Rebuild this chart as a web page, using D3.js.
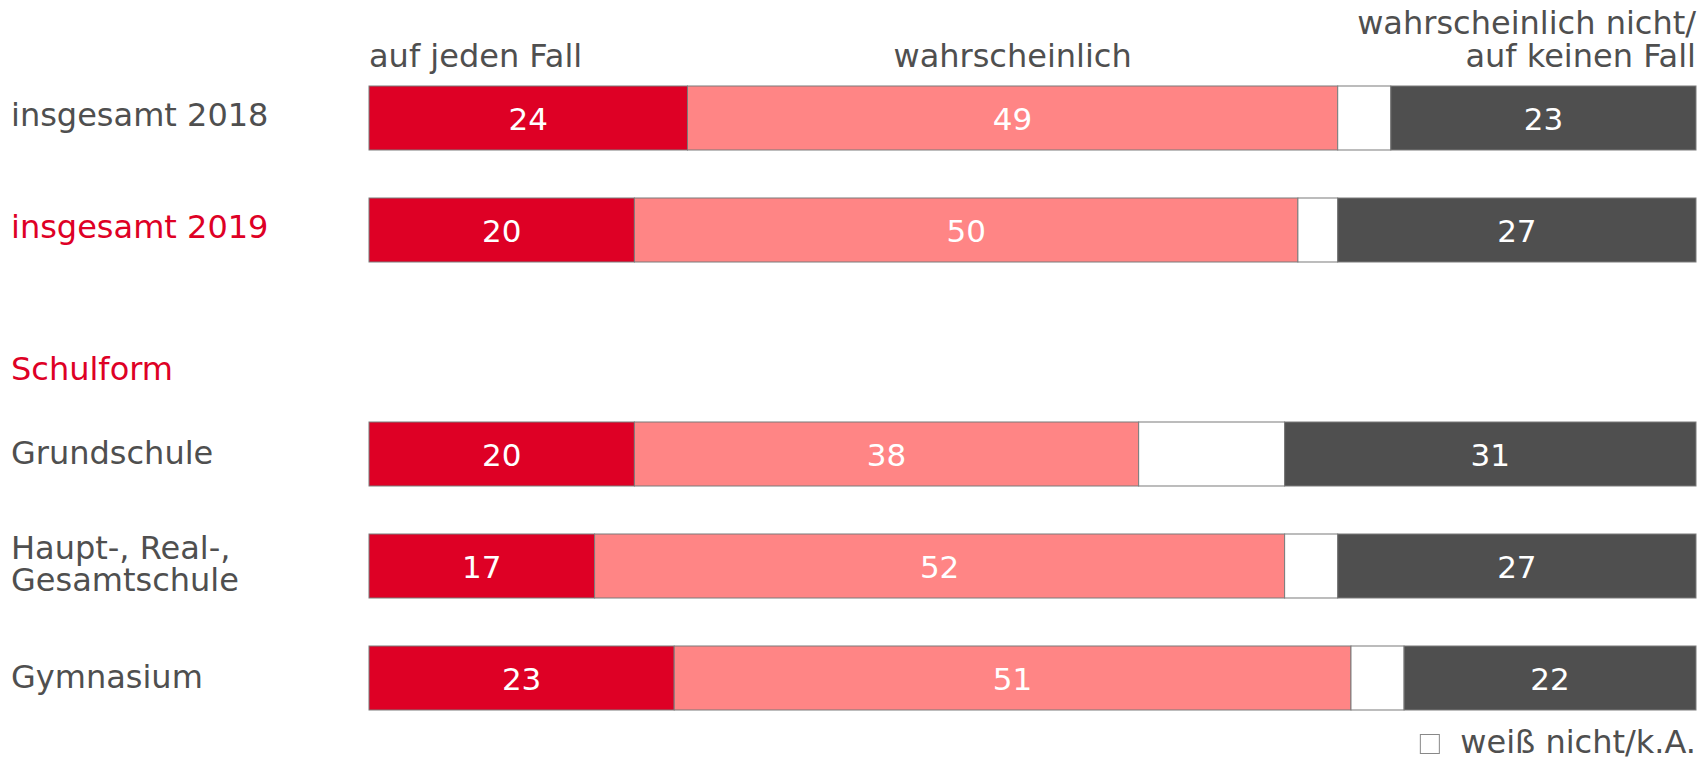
<!DOCTYPE html>
<html>
<head>
<meta charset="utf-8">
<script src="https://cdn.jsdelivr.net/npm/d3@7"></script>
<style>
  body { margin: 0; background: #fff; }
  text { font-family: "DejaVu Sans", Verdana, sans-serif; }
</style>
</head>
<body>
<div id="chart"></div>
<script>
// rows (the "Schulform" row is only a heading, no bar)
var rows = ["insgesamt 2018", "insgesamt 2019", "Schulform", "Grundschule", "Haupt-, Real-, Gesamtschule", "Gymnasium"];
var rowLines = [["insgesamt 2018"], ["insgesamt 2019"], ["Schulform"], ["Grundschule"], ["Haupt-, Real-,", "Gesamtschule"], ["Gymnasium"]];
var rowRed = [false, true, true, false, false, false];

var keys = ["aufJedenFall", "wahrscheinlich", "weissNicht", "nicht"];
var aufJedenFall = [24, 20, null, 20, 17, 23];
var wahrscheinlich = [49, 50, null, 38, 52, 51];
var weissNicht = [4, 3, null, 11, 4, 4];
var nicht = [23, 27, null, 31, 27, 22];

var headerTop = ["auf jeden Fall", "wahrscheinlich"];
var headerRight = ["wahrscheinlich nicht/", "auf keinen Fall"];
var legendLabel = "weiß nicht/k.A.";

var colors = {aufJedenFall: "#DE0025", wahrscheinlich: "#FF8585", weissNicht: "#FFFFFF", nicht: "#4F4F4F"};
var textColor = "#4F4F4F";
var red = "#DE0025";

var w = 1707, h = 761;

var svg = d3.select("#chart").append("svg")
    .attr("width", w)
    .attr("height", h);

var data = rows.map(function (r, i) {
    return {row: r, aufJedenFall: aufJedenFall[i], wahrscheinlich: wahrscheinlich[i],
        weissNicht: weissNicht[i], nicht: nicht[i]};
}).filter(function (d) { return d.aufJedenFall != null; });

var xScale = d3.scaleLinear().domain([0, 100]).range([369, 1696]);
var yScale = d3.scaleBand().domain(rows).range([62, 734])
    .paddingInner(0.4286).paddingOuter(0.2143);

var series = d3.stack().keys(keys)(data);

// bars
var groups = svg.selectAll("g.series")
    .data(series)
    .enter()
    .append("g")
    .attr("class", "series")
    .attr("fill", function (d) { return colors[d.key]; });

groups.selectAll("rect")
    .data(function (d) { return d; })
    .enter()
    .append("rect")
    .attr("x", function (d) { return xScale(d[0]); })
    .attr("y", function (d) { return yScale(d.data.row); })
    .attr("width", function (d) { return xScale(d[1]) - xScale(d[0]); })
    .attr("height", yScale.bandwidth())
    .attr("stroke", "#7a7a7a")
    .attr("stroke-width", 1);

// value labels
groups.filter(function (d) { return d.key != "weissNicht"; })
    .selectAll("text")
    .data(function (d) { return d; })
    .enter()
    .append("text")
    .text(function (d) { return d[1] - d[0]; })
    .attr("text-anchor", "middle")
    .attr("x", function (d) { return (xScale(d[0]) + xScale(d[1])) / 2; })
    .attr("y", function (d) { return yScale(d.data.row) + yScale.bandwidth() / 2 + 12; })
    .attr("font-size", "31px")
    .attr("fill", "#fff");

// row labels
var labels = svg.append("g").selectAll("text")
    .data(rows)
    .enter()
    .append("text")
    .attr("x", 11)
    .attr("y", function (d, i) {
        var c = yScale(d) + yScale.bandwidth() / 2;
        if (d == "Schulform") return 380;
        if (rowLines[i].length > 1) return c - 7;
        if (i < 2) return c + 8;
        return c + 10;
    })
    .attr("font-size", "32px")
    .attr("fill", function (d, i) { return rowRed[i] ? red : textColor; });

labels.selectAll("tspan")
    .data(function (d, i) { return rowLines[i]; })
    .enter()
    .append("tspan")
    .attr("x", 11)
    .attr("dy", function (d, i) { return i == 0 ? 0 : 32; })
    .text(function (d) { return d; });

// column headers
svg.append("text")
    .text(headerTop[0])
    .attr("x", xScale(0))
    .attr("y", 67)
    .attr("font-size", "32px")
    .attr("fill", textColor);

svg.append("text")
    .text(headerTop[1])
    .attr("text-anchor", "middle")
    .attr("x", xScale(aufJedenFall[0] + wahrscheinlich[0] / 2))
    .attr("y", 67)
    .attr("font-size", "32px")
    .attr("fill", textColor);

svg.append("text")
    .attr("text-anchor", "end")
    .attr("font-size", "32px")
    .attr("fill", textColor)
    .selectAll("tspan")
    .data(headerRight)
    .enter()
    .append("tspan")
    .attr("x", xScale(100))
    .attr("y", function (d, i) { return 34 + i * 33; })
    .text(function (d) { return d; });

// legend
var legendText = svg.append("text")
    .text(legendLabel)
    .attr("text-anchor", "end")
    .attr("x", xScale(100))
    .attr("y", 753)
    .attr("font-size", "32px")
    .attr("fill", textColor);

var lw = legendText.node().getComputedTextLength();
svg.append("rect")
    .attr("x", xScale(100) - lw - 40)
    .attr("y", 734.5)
    .attr("width", 19)
    .attr("height", 19)
    .attr("fill", "#fff")
    .attr("stroke", "#888")
    .attr("stroke-width", 1);
</script>
</body>
</html>
